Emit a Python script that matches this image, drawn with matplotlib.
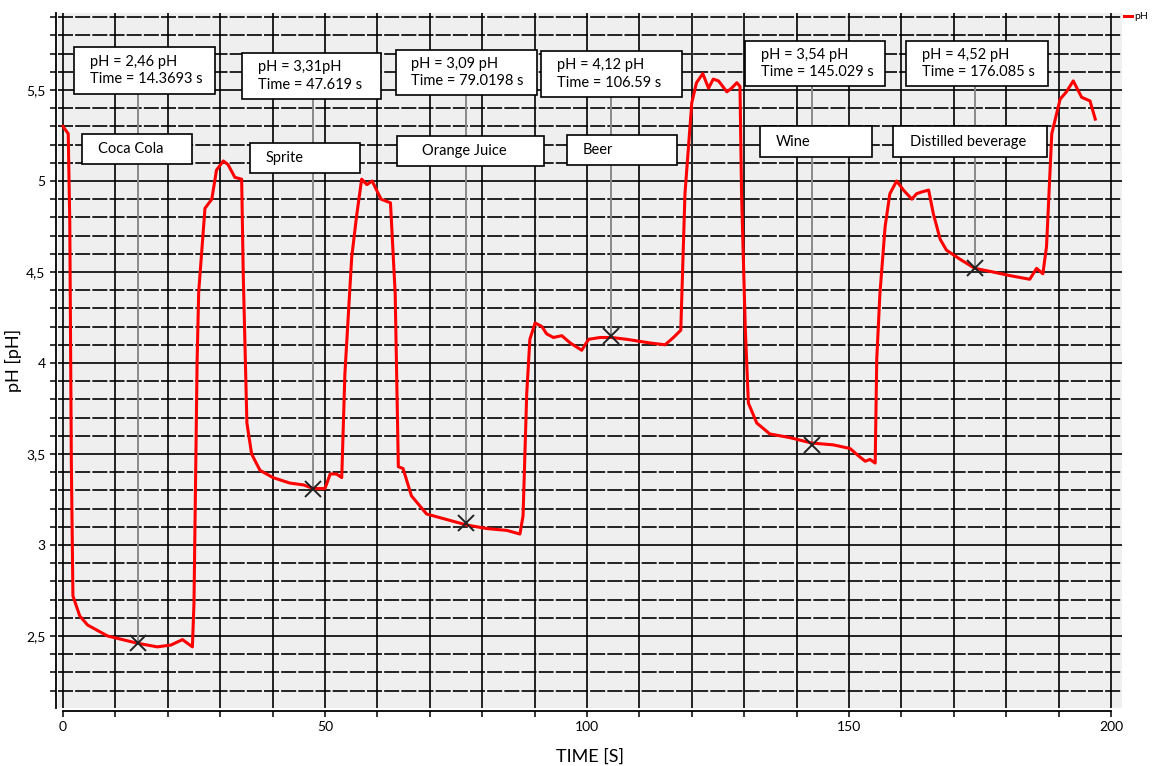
import matplotlib
matplotlib.use("Agg")
import matplotlib.pyplot as plt
from matplotlib.patches import Rectangle
from matplotlib.ticker import MultipleLocator, FuncFormatter

plt.rcParams['font.family'] = ['Lato', 'DejaVu Sans']

# curva de pH
tempo = [0.0, 1.0, 1.3, 1.6, 1.9, 3.2, 4.7, 8.5, 14.2, 18.0, 20.6, 22.8, 24.7,
         25.0, 25.6, 25.9, 27.1, 28.4, 29.3, 30.6, 31.5, 32.8, 34.1, 34.4, 35.1,
         36.0, 37.6, 40.1, 43.3, 45.9, 47.8, 50.0, 51.0, 52.2, 53.2, 53.8, 55.1,
         56.0, 57.0, 58.0, 59.0, 60.7, 62.5, 63.4, 64.0, 64.9, 66.5, 69.4, 73.2,
         77.0, 80.9, 84.7, 87.2, 87.8, 88.5, 89.1, 90.1, 91.4, 92.3, 93.6, 95.2,
         96.8, 99.0, 100.3, 102.5, 104.7, 107.6, 112.0, 114.9, 116.5, 117.9,
         118.7, 120.0, 120.9, 122.1, 123.2, 124.1, 125.1, 126.7, 127.6, 128.6,
         129.2, 129.5, 130.2, 130.8, 132.4, 134.9, 138.7, 142.9, 147.0, 150.2,
         151.8, 153.1, 154.0, 155.0, 155.3, 155.9, 156.9, 157.8, 159.1, 160.4,
         162.0, 162.9, 163.9, 165.2, 166.1, 167.4, 168.6, 171.2, 174.0, 177.5,
         180.7, 184.5, 185.8, 187.0, 187.7, 188.7, 190.3, 191.5, 192.8, 194.4,
         196.0, 197.0]
ph = [5.30, 5.26, 4.77, 3.44, 2.72, 2.61, 2.56, 2.50, 2.46, 2.44, 2.45, 2.48, 2.44,
      2.68, 4.01, 4.39, 4.85, 4.90, 5.06, 5.11, 5.09, 5.02, 5.01, 4.49, 3.67,
      3.50, 3.41, 3.37, 3.34, 3.33, 3.31, 3.31, 3.39, 3.39, 3.37, 3.94, 4.58,
      4.80, 5.01, 4.98, 5.00, 4.90, 4.88, 4.38, 3.43, 3.42, 3.27, 3.17, 3.14,
      3.11, 3.09, 3.08, 3.06, 3.16, 3.83, 4.13, 4.22, 4.20, 4.16, 4.14, 4.15,
      4.11, 4.07, 4.13, 4.14, 4.14, 4.13, 4.11, 4.10, 4.14, 4.18,
      4.93, 5.43, 5.54, 5.59, 5.51, 5.56, 5.55, 5.49, 5.51, 5.54,
      5.52, 4.93, 4.20, 3.78, 3.67, 3.61, 3.59, 3.56, 3.55, 3.53,
      3.49, 3.46, 3.47, 3.45, 4.02, 4.38, 4.75, 4.93, 5.00, 4.95,
      4.90, 4.93, 4.94, 4.95, 4.82, 4.68, 4.62, 4.57, 4.52, 4.50,
      4.48, 4.46, 4.52, 4.49, 4.64, 5.26, 5.45, 5.49, 5.55, 5.46,
      5.44, 5.34]

# marcadores e anotações
marca_t = [14.4, 47.7, 76.9, 104.6, 143.0, 174.0]
marca_ph = [2.46, 3.31, 3.12, 4.15, 3.55, 4.52]
bebidas = ['Coca Cola', 'Sprite', 'Orange Juice', 'Beer', 'Wine', 'Distilled beverage']
valores = ['pH = 2,46 pH\nTime = 14.3693 s',
           'pH = 3,31pH\nTime = 47.619 s',
           'pH = 3,09 pH\nTime = 79.0198 s',
           'pH = 4,12 pH\nTime = 106.59 s',
           'pH = 3,54 pH\nTime = 145.029 s',
           'pH = 4,52 pH\nTime = 176.085 s']

# caixas (x0, x1, y0, y1) em unidades do gráfico
caixas_valor = [(2.1, 29.0, 5.478, 5.736), (34.2, 60.7, 5.451, 5.703),
                (63.5, 90.5, 5.473, 5.720), (91.2, 118.1, 5.462, 5.714),
                (130.2, 156.9, 5.522, 5.769), (160.9, 188.0, 5.522, 5.769)]
caixas_nome = [(3.6, 24.6, 5.093, 5.258), (35.7, 56.7, 5.044, 5.209),
               (63.7, 91.8, 5.082, 5.247), (96.2, 117.2, 5.087, 5.253),
               (133.0, 154.4, 5.132, 5.302), (158.4, 187.8, 5.132, 5.302)]
pad_nome = [3.0, 3.0, 4.8, 3.0, 3.0, 3.2]

fig = plt.figure(figsize=(11.53, 7.66), dpi=100)
ax = fig.add_axes([0.0503, 0.0757, 0.9228, 0.9073])
ax.set_facecolor('#efefef')

ax.set_xlim(-0.95, 202.1)
ax.set_ylim(2.104, 5.923)

ax.xaxis.set_major_locator(MultipleLocator(50))
ax.xaxis.set_minor_locator(MultipleLocator(10))
ax.yaxis.set_major_locator(MultipleLocator(0.5))
ax.yaxis.set_minor_locator(MultipleLocator(0.1))
ax.yaxis.set_major_formatter(FuncFormatter(lambda v, p: ('%g' % v).replace('.', ',')))

ax.set_axisbelow(True)
ax.grid(which='both', axis='x', color='black', lw=1.2, ls='-')
ax.grid(which='major', axis='y', color='black', lw=1.2, ls='-')
ax.grid(which='minor', axis='y', color='black', lw=1.2, ls=(0, (9, 1.3)))

for s in ['top', 'right']:
    ax.spines[s].set_visible(False)
ax.spines['left'].set_position(('outward', 1.5))
ax.spines['left'].set_linewidth(1.3)
ax.spines['bottom'].set_position(('outward', 2))
ax.spines['bottom'].set_bounds(0, 200)
ax.spines['bottom'].set_linewidth(1.3)

ax.tick_params(which='both', direction='out', length=4, width=1.1, labelsize=10, colors='black')
ax.tick_params(axis='x', pad=3)

ax.plot(tempo, ph, color='#ff0000', lw=2.2, zorder=3, label='pH')

for i in range(len(marca_t)):
    x0, x1, y0, y1 = caixas_valor[i]
    ax.plot([marca_t[i], marca_t[i]], [marca_ph[i], y0], color='#8a8a8a', lw=1.4, zorder=2.5)
    ax.add_patch(Rectangle((x0, y0), x1 - x0, y1 - y0, facecolor='white',
                           edgecolor='black', lw=1.2, zorder=4))
    ax.text(x0 + 3.0, (y0 + y1) / 2, valores[i], fontsize=10.5, va='center',
            ha='left', linespacing=1.35, zorder=5)
    n0, n1, m0, m1 = caixas_nome[i]
    ax.add_patch(Rectangle((n0, m0), n1 - n0, m1 - m0, facecolor='white',
                           edgecolor='black', lw=1.2, zorder=4))
    ax.text(n0 + pad_nome[i], (m0 + m1) / 2, bebidas[i], fontsize=10.5,
            va='center', ha='left', zorder=5)

ax.plot(marca_t, marca_ph, ls='none', marker='x', color='#222222', ms=12, mew=1.4, zorder=6)

ax.set_xlabel('TIME [S]', fontsize=13)
ax.set_ylabel('pH [pH]', fontsize=13)
ax.xaxis.set_label_coords(0.5, -0.058)
ax.yaxis.set_label_coords(-0.034, 0.5)

fig.legend(loc='upper left', bbox_to_anchor=(1124 / 1153, 1 - 12 / 766), frameon=False,
           fontsize=7.5, handlelength=0.8, handletextpad=0.2, borderpad=0, borderaxespad=0)

fig.savefig('out.png', dpi=100)
